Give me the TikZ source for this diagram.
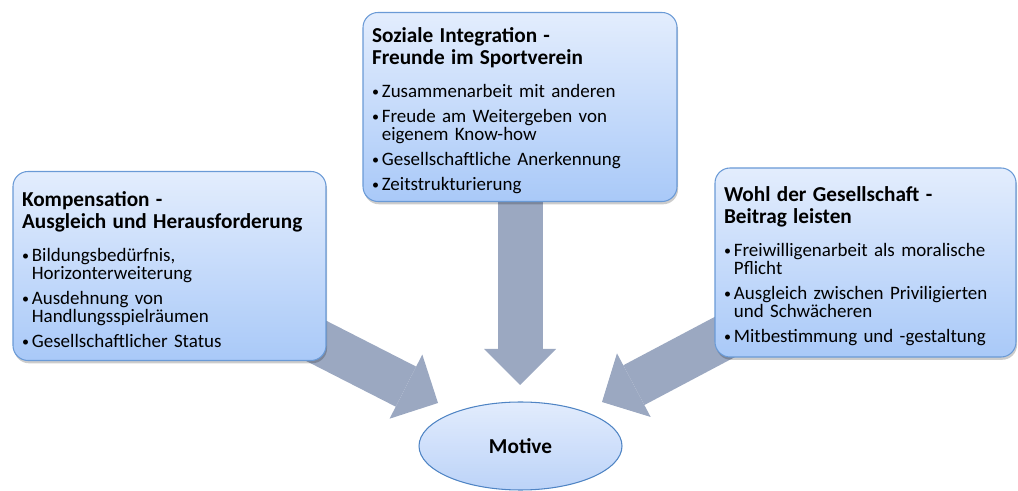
\documentclass[tikz,border=0pt]{standalone}
\usepackage{fontspec}
\setmainfont{Carlito}
\usepackage{tikz}
\usetikzlibrary{arrows.meta,shapes.geometric,backgrounds}

\definecolor{boxtop}{HTML}{E3EDFD}
\definecolor{boxbot}{HTML}{A9C9F8}
\definecolor{boxline}{HTML}{6A9AD6}
\definecolor{arrowgray}{HTML}{9BA8C1}
\definecolor{ovaltop}{HTML}{E2ECFD}
\definecolor{ovalbot}{HTML}{BCD3F8}
\definecolor{ovalline}{HTML}{4F84C4}

\newcommand{\boxtitle}[1]{{\fontsize{12.1pt}{12.5pt}\selectfont\bfseries #1\par}\vspace{4.6pt}}
\newcommand{\boxitem}[1]{\par\vspace{4pt}\begingroup\let\\\newline
  \hangindent=0.52em\hangafter=1\noindent
  \makebox[0.52em][l]{\raisebox{0.6pt}{\fontsize{8pt}{8pt}\selectfont\textbullet}}#1\par\endgroup}

\begin{document}
\begin{tikzpicture}
  \tikzstyle{box}=[draw=boxline, line width=0.6pt, rounded corners=0.3cm,
    top color=boxtop, bottom color=boxbot, align=left,
    inner xsep=0.18cm, inner ysep=0pt, minimum height=3.78cm,
    font=\fontsize{10.8pt}{10.2pt}\selectfont,
    execute at end node={\vspace{-4.5pt}},
    preaction={fill=black,opacity=0.2,transform canvas={xshift=0.6pt,yshift=-1.6pt}}]
  \tikzstyle{oval}=[ellipse, draw=ovalline, line width=0.6pt,
    top color=ovaltop, bottom color=ovalbot, inner sep=0pt,
    minimum width=4.06cm, minimum height=1.76cm,
    font=\fontsize{12.1pt}{12.5pt}\selectfont\bfseries]
  \tikzstyle{flow}=[draw=arrowgray, line width=0.9cm,
    -{Triangle[width=1.44cm, length=0.72cm, line width=0pt]}]

  \useasboundingbox (0,0) rectangle (20.36,9.82);

  % Top: social integration
  \node[box, text width=5.92cm] (soz) at (10.40, 7.68) {\boxtitle{Soziale Integration -\\ Freunde im Sportverein}
    \boxitem{Zusammenarbeit mit anderen}
    \boxitem{Freude am Weitergeben von\\ eigenem Know-how}
    \boxitem{Gesellschaftliche Anerkennung}
    \boxitem{Zeitstrukturierung}};

  % Left: compensation
  \node[box, text width=5.90cm] (kom) at (3.39, 4.50) {\boxtitle{Kompensation -\\ Ausgleich und Herausforderung}
    \boxitem{Bildungsbedürfnis,\\ Horizonterweiterung}
    \boxitem{Ausdehnung von\\ Handlungsspielräumen}
    \boxitem{Gesellschaftlicher Status}};

  % Right: common good
  \node[box, text width=5.66cm] (wohl) at (17.31, 4.57) {\boxtitle{Wohl der Gesellschaft -\\ Beitrag leisten}
    \boxitem{Freiwilligenarbeit als moralische\\ Pflicht}
    \boxitem{Ausgleich zwischen Priviligierten\\ und Schwächeren}
    \boxitem{Mitbestimmung und -gestaltung}};

  % Bottom: target
  \node[oval] (mot) at (10.41, 0.90) {Motive};

  \coordinate (tipk) at (8.76, 1.76);
  \coordinate (tips) at (10.40, 2.12);
  \coordinate (tipw) at (12.04, 1.78);

  \begin{scope}[on background layer]
    \draw[flow] (kom.center) -- (tipk);
    \draw[flow] (soz.center) -- (tips);
    \draw[flow] (wohl.center) -- (tipw);
  \end{scope}
\end{tikzpicture}
\end{document}
